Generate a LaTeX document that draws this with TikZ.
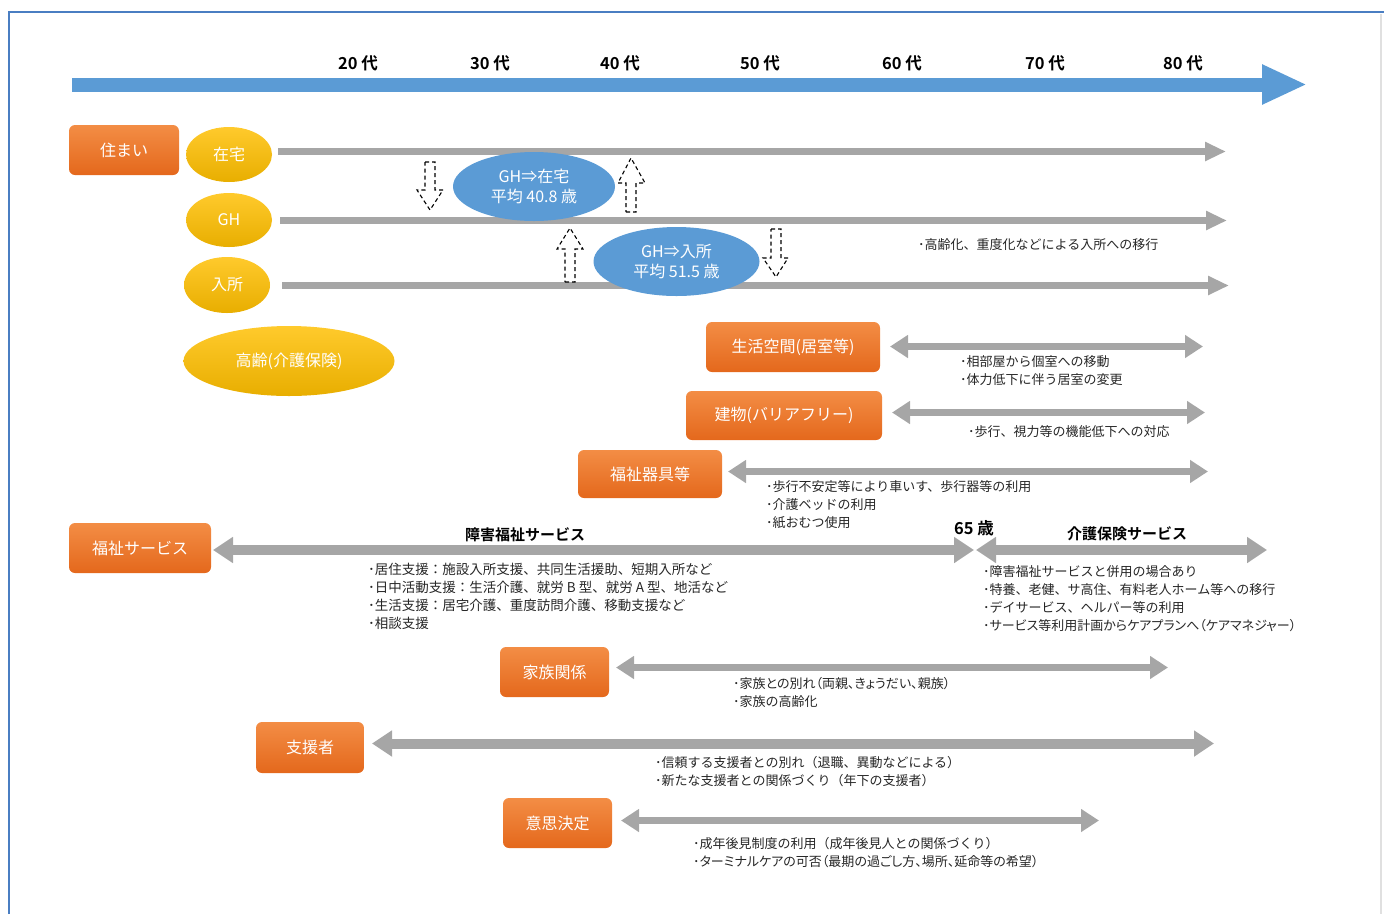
\documentclass[tikz,border=0pt]{standalone}
\usepackage{fontspec}
\setmainfont{Noto Sans CJK JP}[BoldFont={Noto Sans CJK JP Bold}]
\usetikzlibrary{arrows.meta,shapes.geometric}
\definecolor{tlblue}{HTML}{5B9BD5}
\definecolor{frameblue}{HTML}{4A7EC2}
\definecolor{orgtop}{HTML}{F38D45}
\definecolor{orgbot}{HTML}{E4681C}
\definecolor{yeltop}{HTML}{FFCA2C}
\definecolor{yelbot}{HTML}{E8AE00}
\definecolor{ellblue}{HTML}{5B9BD5}
\definecolor{garr}{HTML}{A6A6A6}
\definecolor{txtc}{HTML}{262626}
\newcommand{\pal}{\addfontfeature{RawFeature=+palt}}
\tikzset{
  obox/.style={rectangle, rounded corners=6pt, top color=orgtop, bottom color=orgbot, text=white, font=\fontsize{16}{18}\selectfont, inner sep=0pt},
  yell/.style={ellipse, top color=yeltop, bottom color=yelbot, text=white, font=\fontsize{16}{18}\selectfont, inner sep=0pt},
  bell/.style={ellipse, fill=ellblue, text=white, align=center, font=\fontsize{16}{20}\selectfont, inner sep=0pt},
  note/.style={anchor=west, align=left, font=\fontsize{13}{18}\selectfont, text=txtc, inner sep=0pt},
  age/.style={font=\bfseries\fontsize{16.5}{18}\selectfont, text=black, inner sep=0pt},
  head/.style={font=\bfseries\fontsize{15}{18}\selectfont, text=black, inner sep=0pt},
  garrow/.style={draw=garr, line width=7pt, -{Triangle[length=21pt,width=18pt]}},
  gdarrow/.style={draw=garr, line width=7pt, {Triangle[length=18pt,width=22pt]}-{Triangle[length=18pt,width=22pt]}},
  gdthick/.style={draw=garr, line width=10pt, {Triangle[length=20pt,width=25pt]}-{Triangle[length=20pt,width=25pt]}},
  dblock/.style={draw=black, line width=1.1pt, dash pattern=on 4pt off 3pt}
}
\begin{document}
\begin{tikzpicture}[x=1pt,y=-1pt]
\useasboundingbox (0,0) rectangle (1384,914);
% frame
\draw[black!12, line width=1.5pt] (1381,14) -- (1381,914);
\draw[frameblue, line width=1.8pt] (9,914) -- (9,12) -- (1384,12);
% timeline
\coordinate (tl0) at (72,84.5);
\coordinate (tl1) at (1307,84.5);
\draw[tlblue, line width=14pt, -{Triangle[length=45pt,width=37pt]}] (tl0) -- (tl1);
\node[age] (a20) at (358,63) {20 代};
\node[age] (a30) at (490,63) {30 代};
\node[age] (a40) at (620,63) {40 代};
\node[age] (a50) at (760,63) {50 代};
\node[age] (a60) at (902,63) {60 代};
\node[age] (a70) at (1045,63) {70 代};
\node[age] (a80) at (1183,63) {80 代};
% housing
\node[obox, minimum width=110pt, minimum height=50pt] (sumai) at (124,150) {住まい};
\coordinate (r1s) at (278,151.5); \coordinate (r1e) at (1226,151.5);
\coordinate (r2s) at (280,220.5); \coordinate (r2e) at (1227,220.5);
\coordinate (r3s) at (282,285.5); \coordinate (r3e) at (1229,285.5);
\draw[garrow] (r1s) -- (r1e);
\draw[garrow] (r2s) -- (r2e);
\draw[garrow] (r3s) -- (r3e);
\node[yell, minimum width=86pt, minimum height=55pt] (zaitaku) at (229,154.5) {在宅};
\node[yell, minimum width=86pt, minimum height=54pt] (gh) at (229,220) {GH};
\node[yell, minimum width=86pt, minimum height=56pt] (nyusho) at (227,285) {入所};
\node[yell, minimum width=211pt, minimum height=70pt] (koreiell) at (289,361) {高齢(介護保険)};
\node[bell, minimum width=162pt, minimum height=69pt] (b1) at (534,186.5) {GH⇒在宅\\平均 40.8 歳};
\node[bell, minimum width=166pt, minimum height=69pt] (b2) at (676.5,261.5) {GH⇒入所\\平均 51.5 歳};
% dashed block arrows
\draw[dblock] (425,162) -- (435,162) -- (435,190) -- (443,190) -- (430,210) -- (417,190) -- (425,190) -- cycle;
\draw[dblock] (626,212) -- (636,212) -- (636,183) -- (645,183) -- (631,158) -- (618,183) -- (626,183) -- cycle;
\draw[dblock] (565,282) -- (575,282) -- (575,249) -- (583,249) -- (570,228) -- (557,249) -- (565,249) -- cycle;
\draw[dblock] (771,229) -- (781,229) -- (781,258) -- (788,258) -- (776,277) -- (763,258) -- (771,258) -- cycle;
\node[note] (t1) at (918,245) {･高齢化、重度化などによる入所への移行};
% living space
\node[obox, minimum width=174pt, minimum height=50pt] (seikatsu) at (793,347) {生活空間(居室等)};
\coordinate (s1) at (890,346.5); \coordinate (s2) at (1203,346.5);
\draw[gdarrow] (s1) -- (s2);
\node[note] (t2) at (960,371) {･相部屋から個室への移動\\･体力低下に伴う居室の変更};
% building
\node[obox, minimum width=196pt, minimum height=49pt] (tatemono) at (784,415.5) {建物(バリアフリー)};
\coordinate (k1) at (892,412.5); \coordinate (k2) at (1205,412.5);
\draw[gdarrow] (k1) -- (k2);
\node[note] (t3) at (968,432) {･歩行、視力等の機能低下への対応};
% welfare equipment
\node[obox, minimum width=144pt, minimum height=48pt] (kigu) at (650,474) {福祉器具等};
\coordinate (g1) at (728,471.5); \coordinate (g2) at (1208,471.5);
\draw[gdarrow] (g1) -- (g2);
\node[note] (t4) at (766,505) {･歩行不安定等により車いす、歩行器等の利用\\･介護ベッドの利用\\･紙おむつ使用};
% welfare services
\node[obox, minimum width=142pt, minimum height=50pt] (fukushi) at (140,548) {福祉サービス};
\coordinate (f1) at (213,550); \coordinate (f2) at (974,550);
\coordinate (f3) at (976,550); \coordinate (f4) at (1267,550);
\draw[gdthick] (f1) -- (f2);
\draw[gdthick] (f3) -- (f4);
\node[head] (h1) at (525,535) {障害福祉サービス};
\node[age] (h65) at (974,528) {65 歳};
\node[head] (h2) at (1127,534) {介護保険サービス};
\node[note, font=\fontsize{13.5}{18}\selectfont] (t5) at (368,596) {･居住支援：施設入所支援、共同生活援助、短期入所など\\･日中活動支援：生活介護、就労 B 型、就労 A 型、地活など\\･生活支援：居宅介護、重度訪問介護、移動支援など\\･相談支援};
\node[note] (t6) at (983,599) {･障害福祉サービスと併用の場合あり\\･特養、老健、サ高住、有料老人ホーム等への移行\\･デイサービス、ヘルパー等の利用\\{\pal ･サービス等利用計画からケアプランへ（ケアマネジャー）}};
% family
\node[obox, minimum width=109pt, minimum height=50pt] (kazoku) at (554.5,672) {家族関係};
\coordinate (z1) at (616,667.5); \coordinate (z2) at (1168,667.5);
\draw[gdarrow] (z1) -- (z2);
\node[note] (t7) at (733,692) {{\pal ･家族との別れ（両親、きょうだい、親族）}\\･家族の高齢化};
% supporters
\node[obox, minimum width=108pt, minimum height=51pt] (shiensha) at (310,747.5) {支援者};
\coordinate (p1) at (372,743.5); \coordinate (p2) at (1214,743.5);
\draw[gdthick] (p1) -- (p2);
\node[note] (t8) at (655,772) {･信頼する支援者との別れ（退職、異動などによる）\\･新たな支援者との関係づくり（年下の支援者）};
% decision making
\node[obox, minimum width=109pt, minimum height=50pt] (ishi) at (557.5,823) {意思決定};
\coordinate (d1) at (621,820.5); \coordinate (d2) at (1099,820.5);
\draw[gdarrow] (d1) -- (d2);
\node[note] (t9) at (693,852.5) {･成年後見制度の利用（成年後見人との関係づくり）\\{\pal ･ターミナルケアの可否（最期の過ごし方、場所、延命等の希望）}};
\end{tikzpicture}
\end{document}
